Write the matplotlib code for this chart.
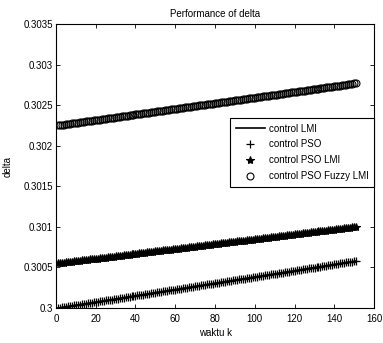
import numpy as np
import matplotlib
matplotlib.use('Agg')
from matplotlib import pyplot as plt

plt.rcParams['font.family'] = ['Liberation Sans', 'DejaVu Sans']

# delta values, in units of 1e-6 above 0.3
lmi_um = [0, 4, 8, 12, 15, 19, 23, 27, 31, 35, 39, 43, 46, 50, 54,
          58, 62, 66, 70, 73, 77, 81, 85, 89, 93, 97, 101, 104, 108, 112,
          116, 120, 124, 128, 131, 135, 139, 143, 147, 151, 155, 159, 162, 166, 170,
          174, 178, 182, 186, 189, 193, 197, 201, 205, 209, 213, 217, 220, 224, 228,
          232, 236, 240, 244, 247, 251, 255, 259, 263, 267, 271, 275, 278, 282, 286,
          290, 294, 298, 302, 305, 309, 313, 317, 321, 325, 329, 333, 336, 340, 344,
          348, 352, 356, 360, 363, 367, 371, 375, 379, 383, 387, 391, 394, 398, 402,
          406, 410, 414, 418, 421, 425, 429, 433, 437, 441, 445, 449, 452, 456, 460,
          464, 468, 472, 476, 479, 483, 487, 491, 495, 499, 503, 507, 510, 514, 518,
          522, 526, 530, 534, 537, 541, 545, 549, 553, 557, 561, 565, 568, 572, 576,
          580]
pso_um = list(lmi_um)
pso_lmi_um = [550, 553, 556, 559, 562, 565, 568, 571, 574, 577,
              580, 583, 586, 589, 592, 595, 598, 601, 604, 607,
              610, 613, 616, 619, 622, 625, 628, 631, 634, 637,
              640, 643, 646, 649, 652, 655, 658, 661, 664, 667,
              670, 673, 676, 679, 682, 685, 688, 691, 694, 697,
              700, 703, 706, 709, 712, 715, 718, 721, 724, 727,
              730, 733, 736, 739, 742, 745, 748, 751, 754, 757,
              760, 763, 766, 769, 772, 775, 778, 781, 784, 787,
              790, 793, 796, 799, 802, 805, 808, 811, 814, 817,
              820, 823, 826, 829, 832, 835, 838, 841, 844, 847,
              850, 853, 856, 859, 862, 865, 868, 871, 874, 877,
              880, 883, 886, 889, 892, 895, 898, 901, 904, 907,
              910, 913, 916, 919, 922, 925, 928, 931, 934, 937,
              940, 943, 946, 949, 952, 955, 958, 961, 964, 967,
              970, 973, 976, 979, 982, 985, 988, 991, 994, 997,
              1000]
fuzzy_um = [2250, 2253, 2257, 2260, 2264, 2267, 2271, 2274, 2278, 2281, 2285, 2288, 2292, 2295, 2299,
            2302, 2305, 2309, 2312, 2316, 2319, 2323, 2326, 2330, 2333, 2337, 2340, 2344, 2347, 2351,
            2354, 2357, 2361, 2364, 2368, 2371, 2375, 2378, 2382, 2385, 2389, 2392, 2396, 2399, 2403,
            2406, 2409, 2413, 2416, 2420, 2423, 2427, 2430, 2434, 2437, 2441, 2444, 2448, 2451, 2455,
            2458, 2461, 2465, 2468, 2472, 2475, 2479, 2482, 2486, 2489, 2493, 2496, 2500, 2503, 2507,
            2510, 2513, 2517, 2520, 2524, 2527, 2531, 2534, 2538, 2541, 2545, 2548, 2552, 2555, 2559,
            2562, 2565, 2569, 2572, 2576, 2579, 2583, 2586, 2590, 2593, 2597, 2600, 2604, 2607, 2611,
            2614, 2617, 2621, 2624, 2628, 2631, 2635, 2638, 2642, 2645, 2649, 2652, 2656, 2659, 2663,
            2666, 2669, 2673, 2676, 2680, 2683, 2687, 2690, 2694, 2697, 2701, 2704, 2708, 2711, 2715,
            2718, 2721, 2725, 2728, 2732, 2735, 2739, 2742, 2746, 2749, 2753, 2756, 2760, 2763, 2767,
            2770]

labels = ['control LMI', 'control PSO', 'control PSO LMI', 'control PSO Fuzzy LMI']
x_ticks = [0, 20, 40, 60, 80, 100, 120, 140, 160]
y_ticks = [0.3, 0.3005, 0.301, 0.3015, 0.302, 0.3025, 0.303, 0.3035]
y_ticklabels = ['0.3', '0.3005', '0.301', '0.3015', '0.302', '0.3025', '0.303', '0.3035']


def to_delta(um):
    return 0.3 + np.array(um) * 1e-6


def steps(y):
    return np.arange(1, len(y) + 1)


fig = plt.figure(figsize=(3.83, 3.43), dpi=100)
ax = fig.add_axes([0.146, 0.102, 0.831, 0.828])

ax.plot(steps(lmi_um), to_delta(lmi_um), '-', color='black', lw=1.2, label=labels[0])
ax.plot(steps(pso_um), to_delta(pso_um), '+', color='black', ms=6, mew=0.9, ls='none', label=labels[1])
ax.plot(steps(pso_lmi_um), to_delta(pso_lmi_um), '*', color='black', ms=6, mew=0.8, ls='none', label=labels[2])
ax.plot(steps(fuzzy_um), to_delta(fuzzy_um), 'o', color='black', mfc='none', ms=5, mew=0.8, ls='none',
        label=labels[3])

ax.set_xlim(0, 160)
ax.set_ylim(0.3, 0.3035)
ax.set_xticks(x_ticks)
ax.set_xticklabels([str(t) for t in x_ticks])
ax.set_yticks(y_ticks)
ax.set_yticklabels(y_ticklabels)
ax.tick_params(direction='in', top=True, right=True, labelsize=7, length=3, width=0.6)
ax.tick_params(axis='x', pad=4)
ax.tick_params(axis='y', pad=2)
for sp in ax.spines.values():
    sp.set_linewidth(0.8)

ax.set_title('Performance of delta', fontsize=7, pad=5)
ax.set_xlabel('waktu k', fontsize=7, labelpad=3)
ax.set_ylabel('delta', fontsize=7, labelpad=8)

leg = ax.legend(loc='upper right', bbox_to_anchor=(1.0, 0.67), fontsize=7, frameon=True, fancybox=False,
                edgecolor='black', framealpha=1, borderpad=0.6, labelspacing=0.6, handlelength=3.0,
                handletextpad=0.4, borderaxespad=0)
leg.get_frame().set_linewidth(0.8)

fig.savefig('out.png', dpi=100)
